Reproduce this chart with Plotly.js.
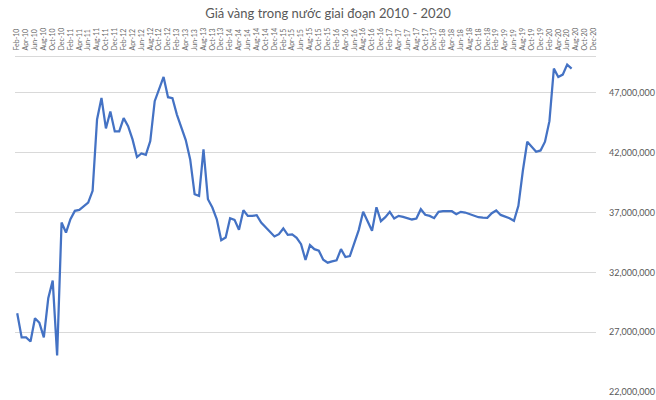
<!DOCTYPE html>
<html>
<head>
<meta charset="utf-8">
<script src="https://cdn.plot.ly/plotly-3.0.1.min.js"></script>
<style>
  html, body { margin: 0; padding: 0; background: #fff; }
  #chart { width: 656px; height: 400px; }
</style>
</head>
<body>
<div id="chart"></div>
<script>
// category axis: Feb-10 .. Dec-20, data stops at Jul-20
var monthNames = ['Jan', 'Feb', 'Mar', 'Apr', 'May', 'Jun', 'Jul', 'Aug', 'Sep', 'Oct', 'Nov', 'Dec'];
var years = ['10', '11', '12', '13', '14', '15', '16', '17', '18', '19', '20'];

// gia vang (VND / luong)
var goldPrice = [
  28580000, 26560000, 26560000, 26220000, 28170000, 27780000, 26560000, 29830000, 31310000, 25060000, 36170000,
  35330000, 36440000, 37140000, 37220000, 37500000, 37830000, 38810000, 44780000, 46580000, 44030000, 45440000, 43780000,
  43780000, 44890000, 44220000, 43110000, 41640000, 41940000, 41830000, 42970000, 46310000, 47280000, 48330000, 46640000,
  46560000, 45190000, 44080000, 43060000, 41440000, 38530000, 38390000, 42280000, 38110000, 37420000, 36440000, 34690000,
  34920000, 36530000, 36390000, 35560000, 37190000, 36720000, 36720000, 36780000, 36170000, 35750000, 35390000, 35000000,
  35190000, 35670000, 35140000, 35170000, 34890000, 34360000, 33030000, 34280000, 33940000, 33810000, 33060000, 32810000,
  32920000, 33000000, 33940000, 33280000, 33360000, 34440000, 35530000, 37060000, 36280000, 35470000, 37440000, 36280000,
  36610000, 37060000, 36500000, 36720000, 36640000, 36500000, 36420000, 36500000, 37280000, 36810000, 36720000, 36530000,
  37060000, 37110000, 37080000, 37110000, 36860000, 37060000, 37000000, 36860000, 36750000, 36610000, 36580000, 36560000,
  36940000, 37170000, 36800000, 36670000, 36530000, 36310000, 37560000, 40470000, 42920000, 42500000, 42080000, 42190000,
  42920000, 44640000, 49030000, 48330000, 48530000, 49360000, 49030000
];

var categories = [];
for (var y = 0; y < years.length; y++) {
  for (var m = 0; m < 12; m++) {
    if (y == 0 && m == 0) continue;
    categories.push(monthNames[m] + '-' + years[y]);
  }
}

var tickVals = [];
for (var i = 0; i < categories.length; i += 2) {
  tickVals.push(categories[i]);
}

var grey = '#595959';

trace1 = {
  type: 'scatter',
  x: categories.slice(0, goldPrice.length),
  y: goldPrice,
  mode: 'lines',
  line: {
    color: '#4472C4',
    width: 2.25
  },
  hoverinfo: 'x+y'
};

var layout = {
  width: 656,
  height: 400,
  title: {
    text: 'Giá vàng trong nước giai đoạn 2010 - 2020',
    font: { family: 'Lato, sans-serif', size: 13, color: grey },
    x: 0.5,
    xanchor: 'center',
    y: 1 - 13 / 400,
    yanchor: 'middle',
    yref: 'container'
  },
  margin: {
    l: 15,
    r: 60,
    t: 57,
    b: 8
  },
  showlegend: false,
  paper_bgcolor: '#fff',
  plot_bgcolor: '#fff',
  xaxis: {
    type: 'category',
    categoryorder: 'array',
    categoryarray: categories,
    range: [-0.5, categories.length - 0.5],
    side: 'top',
    tickmode: 'array',
    tickvals: tickVals,
    ticktext: tickVals,
    tickangle: -90,
    tickfont: { family: 'Lato, sans-serif', size: 7, color: '#6a6a6a' },
    ticks: '',
    ticklabelstandoff: 4,
    showgrid: false,
    showline: true,
    linecolor: '#d9d9d9',
    linewidth: 1,
    zeroline: false
  },
  yaxis: {
    range: [22000000, 50000000],
    side: 'right',
    tick0: 22000000,
    dtick: 5000000,
    tickformat: ',d',
    tickfont: { family: 'Lato, sans-serif', size: 9, color: grey },
    ticklabelstandoff: 12,
    showgrid: true,
    gridcolor: '#d9d9d9',
    gridwidth: 1,
    zeroline: false,
    showline: false,
    ticks: ''
  }
};

var data = [trace1];

Plotly.newPlot('chart', data, layout, {displayModeBar: false, staticPlot: true});
</script>
</body>
</html>
